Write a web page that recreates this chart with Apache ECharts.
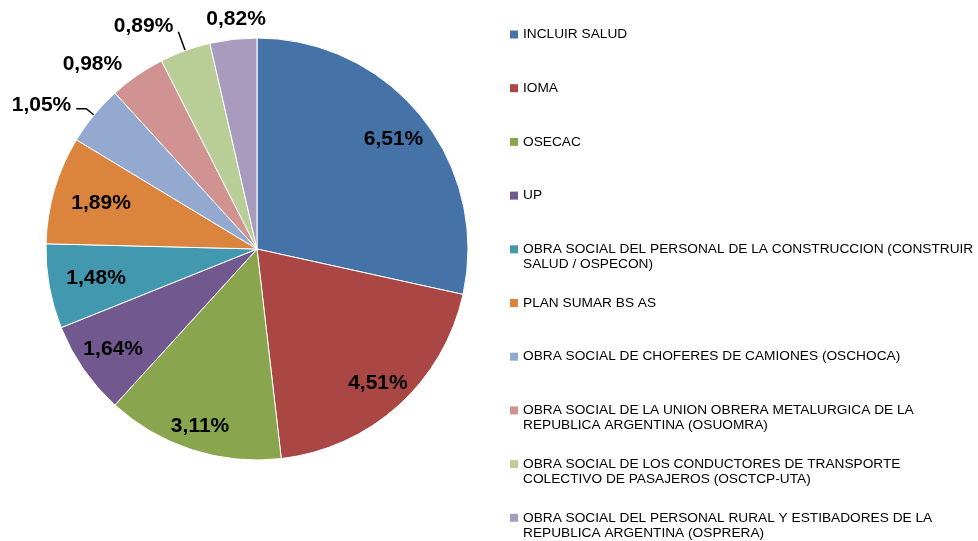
<!DOCTYPE html>
<html>
<head>
<meta charset="utf-8">
<script src="https://cdn.jsdelivr.net/npm/echarts@6/dist/echarts.min.js"></script>
<style>
  html, body { margin: 0; padding: 0; background: #fff; }
  #chart { width: 978px; height: 541px; }
</style>
</head>
<body>
<div id="chart"></div>
<script>
// datos
const categorias = [
  'INCLUIR SALUD',
  'IOMA',
  'OSECAC',
  'UP',
  'OBRA SOCIAL DEL PERSONAL DE LA CONSTRUCCION (CONSTRUIR SALUD / OSPECON)',
  'PLAN SUMAR BS AS',
  'OBRA SOCIAL DE CHOFERES DE CAMIONES (OSCHOCA)',
  'OBRA SOCIAL DE LA UNION OBRERA METALURGICA DE LA REPUBLICA ARGENTINA (OSUOMRA)',
  'OBRA SOCIAL DE LOS CONDUCTORES DE TRANSPORTE COLECTIVO DE PASAJEROS (OSCTCP-UTA)',
  'OBRA SOCIAL DEL PERSONAL RURAL Y ESTIBADORES DE LA REPUBLICA ARGENTINA (OSPRERA)'
];
const porcentajes = [6.51, 4.51, 3.11, 1.64, 1.48, 1.89, 1.05, 0.98, 0.89, 0.82];
const colores = ['#4572A7', '#AA4643', '#89A54E', '#71588F', '#4198AF',
                 '#DB843D', '#93A9CF', '#D19392', '#B9CD96', '#A99BBD'];

const centro = [257, 249];
const radio = 211;
// distancia de cada etiqueta interior al centro, como fraccion del radio
const radioEtiqueta = [0.83, 0.855, 0.88, 0.83, 0.775, 0.77];

const legendFont = 13.7;
const legendMaxWidth = 458;
const fuente = '"Liberation Sans", Arial, sans-serif';

// partir los nombres largos en lineas como en la leyenda original
const ctx = document.createElement('canvas').getContext('2d');
ctx.font = legendFont + 'px ' + fuente;
function partir(texto) {
  const palabras = texto.split(' ');
  const lineas = [];
  let actual = '';
  palabras.forEach(p => {
    const prueba = actual ? actual + ' ' + p : p;
    if (ctx.measureText(prueba).width > legendMaxWidth && actual) {
      lineas.push(actual);
      actual = p;
    } else {
      actual = prueba;
    }
  });
  lineas.push(actual);
  return lineas;
}

const fmt = v => v.toFixed(2).replace('.', ',') + '%';

const myChart = echarts.init(document.getElementById('chart'));

const option = {
  animation: false,
  color: colores,
  legend: {
    orient: 'vertical',
    left: 510,
    top: 12,
    padding: 0,
    itemGap: 8.7,
    itemWidth: 8,
    itemHeight: 8,
    icon: 'rect',
    selectedMode: false,
    itemStyle: { borderWidth: 0 },
    textStyle: {
      fontFamily: fuente,
      fontSize: legendFont,
      lineHeight: 15,
      color: '#000'
    },
    formatter: name => {
      const l = partir(name);
      // siempre tres renglones para que la primera linea quede centrada con el icono
      return l.length > 1 ? ' \n' + l.join('\n') : ' \n' + l[0] + '\n ';
    },
    data: categorias
  },
  series: [
    {
      name: 'principal',
      type: 'pie',
      center: centro,
      radius: [0, radio],
      startAngle: 90,
      clockwise: true,
      avoidLabelOverlap: false,
      itemStyle: { borderColor: '#fff', borderWidth: 1 },
      label: {
        show: true,
        position: 'outside',
        formatter: p => fmt(p.value),
        fontFamily: fuente,
        fontWeight: 'bold',
        fontSize: 21,
        color: '#000'
      },
      labelLine: {
        lineStyle: { color: '#000', width: 1.5 }
      },
      emphasis: { disabled: true },
      data: categorias.map((c, i) => {
        const d = { name: c, value: porcentajes[i] };
        if (i < 6) {
          d.label = { show: false };
          d.labelLine = { show: false };
        } else if (i === 6) {
          d.labelLine = { show: true, length: 10, length2: 10 };
        } else if (i === 7) {
          d.labelLine = { show: false, length: 14, length2: 2 };
        } else if (i === 8) {
          d.labelLine = { show: true, length: 20, length2: 0 };
        } else {
          d.labelLine = { show: false, length: 20, length2: 0 };
        }
        return d;
      }),
      labelLayout: p => {
        if (p.dataIndex === 6) return { dy: -3 };
        if (p.dataIndex === 8) return { dy: -6 };
        if (p.dataIndex === 9) return { align: 'center', dx: 10 };
        return {};
      }
    },
    {
      // capa transparente solo para ubicar las etiquetas interiores
      name: 'etiquetas',
      type: 'pie',
      center: centro,
      radius: [radio * 0.6, radio],
      startAngle: 90,
      clockwise: true,
      silent: true,
      avoidLabelOverlap: false,
      itemStyle: { color: 'rgba(0,0,0,0)' },
      label: {
        show: true,
        position: 'inside',
        formatter: p => fmt(p.value),
        fontFamily: fuente,
        fontWeight: 'bold',
        fontSize: 21,
        color: '#000'
      },
      labelLine: { show: false },
      emphasis: { disabled: true },
      labelLayout: p => {
        const f = radioEtiqueta[p.dataIndex];
        if (f == null) return {};
        const r = p.labelRect;
        const cx = r.x + r.width / 2;
        const cy = r.y + r.height / 2;
        const vx = cx - centro[0];
        const vy = cy - centro[1];
        const len = Math.sqrt(vx * vx + vy * vy) || 1;
        return {
          dx: vx / len * f * radio - vx,
          dy: vy / len * f * radio - vy
        };
      },
      data: categorias.map((c, i) => ({
        name: c,
        value: porcentajes[i],
        label: { show: i < 6 }
      }))
    }
  ]
};

myChart.setOption(option);

window.addEventListener('resize', () => {
  myChart.resize();
});
</script>
</body>
</html>
